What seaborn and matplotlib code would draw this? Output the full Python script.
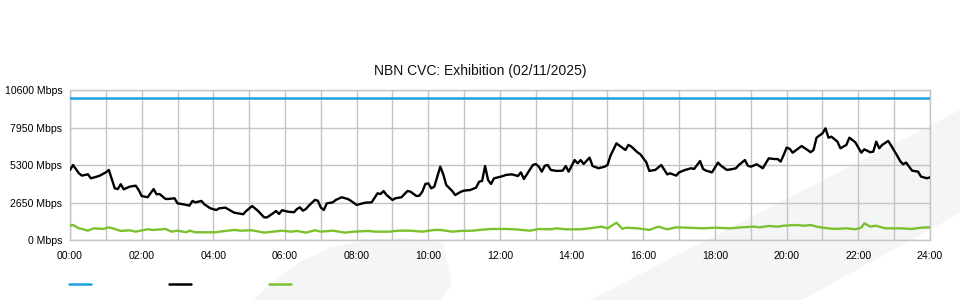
import numpy as np
import pandas as pd
import seaborn as sns
import matplotlib
matplotlib.use("Agg")
import matplotlib.pyplot as plt
from matplotlib.patches import Polygon
from matplotlib.lines import Line2D

# ---------------- data ----------------
title = "NBN CVC: Exhibition (02/11/2025)"
y_ticks = [0, 2650, 5300, 7950, 10600]
x_tick_hours = list(range(0, 25, 2))
x_tick_labels = [f"{h:02d}:00" for h in x_tick_hours]

capacity_min = [0, 1440]
capacity_val = [10000, 10000]

traffic_min = [
    0, 5, 15, 20, 30, 35, 45, 50,
    60, 65, 75, 80, 85, 90, 100, 110, 115,
    120, 130, 140, 145, 150, 160, 165, 175,
    180, 190, 200, 205, 210, 220, 225, 235,
    245, 250, 260, 270, 275, 290, 295,
    305, 315, 325, 330, 340, 345, 350, 355,
    365, 375, 380, 385, 390, 395, 400, 410, 415,
    420, 425, 430, 440, 445, 455, 465, 470,
    480, 495, 505, 515, 520, 525, 530,
    540, 545, 555, 565, 570, 580, 585, 590, 595,
    600, 605, 610, 620, 625, 630, 640, 645, 655,
    660, 670, 680, 685, 690, 695, 700, 705, 710, 715,
    725, 730, 740, 750, 755, 760, 765, 775,
    780, 785, 790, 795, 800, 805, 815, 825, 830, 835,
    845, 850, 855, 860, 870, 875, 885, 895,
    900, 905, 915, 920, 930, 935, 940, 950, 955,
    965, 970, 980, 990, 1000, 1005, 1015,
    1020, 1030, 1040, 1045, 1055, 1060, 1065, 1075,
    1085, 1090, 1100, 1110, 1115, 1120, 1130, 1135,
    1140, 1150, 1160, 1170, 1180, 1185, 1190, 1195,
    1200, 1205, 1210, 1220, 1225, 1235, 1240, 1245, 1250,
    1260, 1265, 1270, 1275, 1285, 1290, 1300, 1305, 1315,
    1325, 1330, 1340, 1345, 1350, 1355, 1360, 1370, 1375,
    1385, 1390, 1395, 1400, 1410, 1420, 1425, 1435, 1440,
]
traffic_val = [
    4950, 5300, 4710, 4550, 4640, 4360, 4480, 4550,
    4780, 4950, 3650, 3600, 3940, 3580, 3770, 3840, 3530,
    3110, 3020, 3600, 3230, 3250, 2900, 2900, 2950,
    2590, 2520, 2430, 2760, 2660, 2760, 2520, 2240,
    2120, 2240, 2290, 2050, 1930, 1820, 2050,
    2400, 2050, 1600, 1600, 1890, 2050, 1840, 2100,
    2000, 1960, 2190, 2310, 2070, 2190, 2430, 2830, 2780,
    2290, 2120, 2590, 2660, 2830, 3020, 2900, 2780,
    2480, 2640, 2660, 3300, 3250, 3460, 3180,
    2830, 2950, 3020, 3460, 3420, 3110, 3130, 3420, 3960,
    4000, 3650, 3770, 5180, 4640, 3890, 3460, 3180, 3420,
    3490, 3530, 3700, 4120, 4170, 5230, 4240, 3960, 4360, 4410,
    4520, 4600, 4640, 4520, 4780, 4310, 4640, 5300,
    5370, 5180, 4830, 5250, 5300, 4950, 4880, 4900, 5230, 4830,
    5650, 5420, 5650, 5370, 5820, 5230, 5070, 5180,
    5300, 5960, 6830, 6670, 6360, 6720, 6600, 6200, 6060,
    5490, 4880, 4950, 5300, 4640, 4710, 4550,
    4780, 4950, 5070, 5020, 5580, 5020, 4900, 4780,
    5470, 5250, 4950, 5020, 5070, 5300, 5650, 5250,
    5180, 5350, 5070, 5770, 5720, 5720, 5540, 6010,
    6530, 6450, 6170, 6480, 6640, 6360, 6200, 6360, 7230,
    7540, 7890, 7230, 7300, 6950, 6480, 6720, 7230, 6900,
    6170, 6410, 6200, 6240, 6950, 6480, 6720, 7000, 6670,
    5960, 5580, 5350, 5470, 4900, 4830, 4480, 4360, 4430,
]

upload_min = [
    0, 5, 15, 20, 30, 40, 55,
    65, 75, 85, 100, 110,
    130, 140, 160, 170,
    180, 195, 200, 210, 245, 250, 275, 285,
    305, 325, 340, 355,
    370, 380, 395, 410, 420, 440, 460, 475,
    500, 510, 535, 550, 570, 590,
    610, 620, 640, 655, 675, 685, 705, 730, 745, 770, 785, 805, 815, 830, 855, 870, 890,
    900, 915, 925, 930, 950, 970, 985, 1000, 1015, 1035, 1060, 1080, 1105, 1125, 1145, 1155,
    1170, 1185, 1195, 1215, 1230, 1240, 1250, 1260, 1280, 1300, 1315, 1325, 1330, 1340,
    1350, 1355, 1365, 1390, 1410, 1425, 1440,
]
upload_val = [
    1010, 1060, 825, 780, 660, 825, 780,
    895, 780, 640, 685, 590,
    755, 710, 780, 590,
    660, 545, 660, 545, 545, 590, 710, 660,
    685, 520, 590, 660,
    590, 640, 520, 685, 590, 660, 520, 590,
    640, 590, 590, 660, 660, 590,
    710, 710, 590, 640, 660, 710, 780, 780, 755, 660, 780, 755, 825, 755, 755, 825, 945,
    825, 1225, 780, 870, 825, 710, 945, 755, 895, 870, 825, 870, 825, 895, 945, 895,
    990, 945, 1010, 1060, 1010, 1060, 945, 870, 780, 825, 755, 870, 1180, 945,
    1010, 945, 825, 825, 780, 870, 895,
]

assert len(traffic_min) == len(traffic_val)
assert len(upload_min) == len(upload_val)

blue = "#1ba1e2"
black = "#000000"
green = "#7cc12e"
grid_c = "#c4c4c4"

def frame(mins, vals):
    return pd.DataFrame({"hour": np.array(mins) / 60.0, "mbps": vals})

df_cap = frame(capacity_min, capacity_val)
df_trf = frame(traffic_min, traffic_val)
df_up = frame(upload_min, upload_val)

# ---------------- figure ----------------
sns.set_theme(style="white")
plt.rcParams["font.family"] = ["Liberation Sans", "DejaVu Sans"]

W, H = 960, 300
fig = plt.figure(figsize=(9.6, 3.0), dpi=100)
fig.patch.set_facecolor("white")

# faint watermark shapes in a background axes
bg = fig.add_axes([0, 0, 1, 1], zorder=0)
bg.set_xlim(0, W)
bg.set_ylim(H, 0)
bg.axis("off")
wm = "#f4f5f7"
bg.add_patch(Polygon([(253, 300), (275, 280), (300, 262), (330, 248), (365, 240),
                      (400, 238), (443, 242), (452, 285), (440, 300)],
                     closed=True, facecolor=wm, edgecolor="none"))
bg.add_patch(Polygon([(590, 300), (960, 110), (960, 213), (802, 300)],
                     closed=True, facecolor=wm, edgecolor="none"))

ax = fig.add_axes([70 / W, 1 - 240 / H, 860 / W, 150 / H], zorder=2)
ax.set_facecolor("none")

sns.lineplot(data=df_cap, x="hour", y="mbps", ax=ax, color=blue, lw=1.8, zorder=3)
sns.lineplot(data=df_trf, x="hour", y="mbps", ax=ax, color=black, lw=1.7, zorder=4)
sns.lineplot(data=df_up, x="hour", y="mbps", ax=ax, color=green, lw=1.7, zorder=3)

ax.set_xlim(0, 24)
ax.set_ylim(0, 10600)
ax.set_xticks(x_tick_hours)
ax.set_xticklabels(x_tick_labels)
ax.set_xticks(range(0, 25), minor=True)
ax.set_yticks(y_ticks)
ax.set_yticklabels([f"{v} Mbps" for v in y_ticks])
ax.set_xlabel("")
ax.set_ylabel("")
ax.tick_params(axis="both", which="both", length=0, labelsize=7.6, colors="#000000")
ax.tick_params(axis="x", pad=8)
ax.tick_params(axis="y", pad=5.5)
ax.grid(True, which="major", axis="y", color=grid_c, lw=1.0)
ax.grid(True, which="both", axis="x", color=grid_c, lw=1.0)
ax.set_axisbelow(True)
for s in ax.spines.values():
    s.set_color(grid_c)
    s.set_linewidth(1.0)

fig.text(0.5, 1 - 71 / H, title, ha="center", va="center", fontsize=10, color="#111111")

handles = [Line2D([], [], color=c, lw=1.8) for c in (blue, black, green)]
fig.legend(handles, ["", "", ""], ncol=3, loc="center left",
           bbox_to_anchor=(69 / W, 1 - 285 / H), frameon=False, fontsize=8,
           handlelength=2.0, handletextpad=0.0, columnspacing=7.0,
           borderpad=0.0, borderaxespad=0.0)

fig.savefig("out.png", dpi=100, facecolor="white")
